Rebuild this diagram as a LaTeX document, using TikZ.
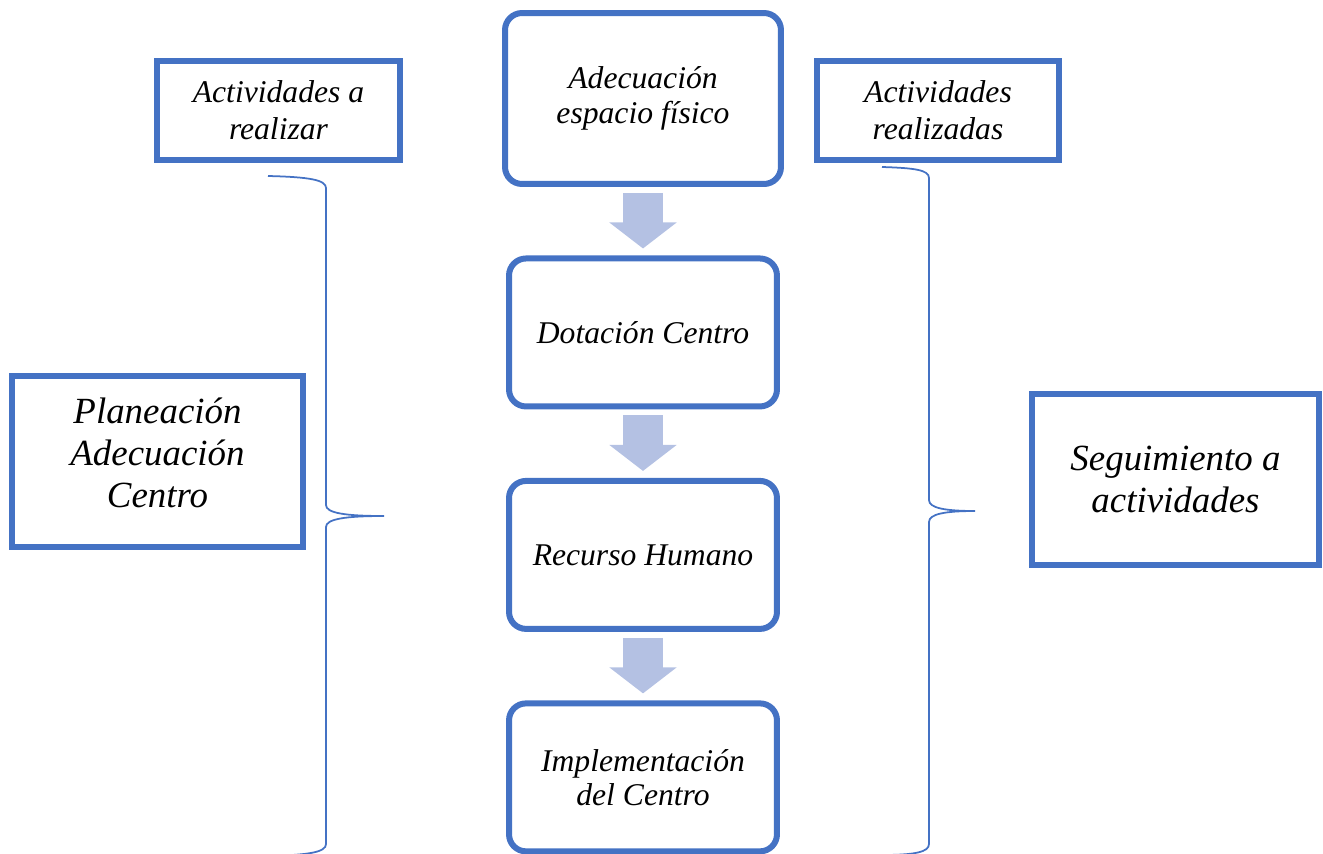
\documentclass[tikz,border=0pt]{standalone}
\usepackage{fontspec}
\setmainfont{Liberation Serif}
\usetikzlibrary{positioning,arrows.meta}
\definecolor{boxblue}{HTML}{4472C4}
\definecolor{arrowblue}{HTML}{B4C1E3}
\tikzstyle{stage}   = [draw=boxblue, line width=0.12cm, rounded corners=0.34cm, fill=white, minimum width=5.36cm, minimum height=2.96cm, align=center, font=\fontsize{18}{19.5}\selectfont\itshape]
\tikzstyle{tagbox}  = [draw=boxblue, line width=0.12cm, minimum height=1.98cm, align=center, font=\fontsize{18}{21}\selectfont\itshape]
\tikzstyle{bigbox}  = [draw=boxblue, line width=0.12cm, minimum height=3.42cm, align=center, font=\fontsize{21}{24}\selectfont\itshape]
\tikzstyle{flow}    = [draw=arrowblue, line width=0.8cm, -{Triangle[length=0.52cm, width=1.32cm]}, shorten <=0.12cm, shorten >=0.14cm]
\tikzstyle{bracket} = [draw=boxblue, line width=1pt]

\begin{document}
\begin{tikzpicture}[x=0.02cm, y=-0.02cm, node distance=1.37cm]

    \clip (0,0) rectangle (1323,853);

    \node[stage, minimum width=5.52cm, minimum height=3.42cm] at (643,98.5) (s1) {Adecuación\\espacio físico};
    \node[stage, below=of s1] (s2) {Dotación Centro};
    \node[stage, below=of s2] (s3) {Recurso Humano};
    \node[stage, below=of s3] (s4) {Implementación\\del Centro};

    \node[tagbox, minimum width=4.86cm] at (278.5,110.5) (todo) {Actividades a\\realizar};
    \node[tagbox, minimum width=4.84cm] at (938,110.5) (done) {Actividades\\realizadas};

    \node[bigbox, minimum width=5.82cm] at (157.5,461.5) (plan)   {Planeación\\Adecuación\\Centro\\[-14pt]\mbox{}};
    \node[bigbox, minimum width=5.74cm] at (1175.5,479.5) (follow) {Seguimiento a\\actividades};

    \draw[flow] (s1) -- (s2);
    \draw[flow] (s2) -- (s3);
    \draw[flow] (s3) -- (s4);

    \draw[bracket] (268,176) .. controls (310,177) and (326,180) .. (326,188) -- (326,505)
        .. controls (326,513) and (345,516) .. (384,516)
        .. controls (345,516) and (326,519) .. (326,527) -- (326,844)
        .. controls (326,852) and (310,855) .. (268,856);
    \draw[bracket] (882,167) .. controls (915,168) and (929,170) .. (929,178) -- (929,500)
        .. controls (929,508) and (945,511) .. (975,511)
        .. controls (945,511) and (929,514) .. (929,522) -- (929,844)
        .. controls (929,852) and (915,855) .. (882,855);

\end{tikzpicture}
\end{document}
